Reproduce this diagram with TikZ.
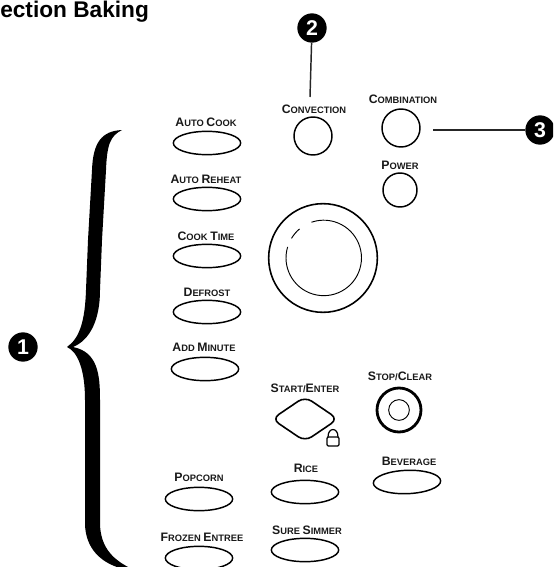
\documentclass[tikz,border=0pt]{standalone}
\usepackage{fontspec}
\setmainfont{Liberation Sans}
\newcommand{\lab}[2]{{\fontsize{9.2}{9.2}\selectfont #1{\fontsize{7}{7}\selectfont #2}}}
\tikzset{
  x=0.75pt,y=-0.75pt,
  btn/.style={draw=black,line width=1.1pt,ellipse,minimum width=50.5pt,minimum height=17.5pt,inner sep=0pt},
  rnd/.style={draw=black,line width=1.1pt,circle,inner sep=0pt},
  lbl/.style={font=\bfseries,inner sep=0pt,text=black!90},
  badge/.style={circle,fill=black,text=white,font=\fontsize{16}{16}\selectfont\bfseries,minimum size=22pt,inner sep=0pt},
  lead/.style={draw=black!85,line width=1.1pt}
}
\usetikzlibrary{shapes.geometric}
\begin{document}
\begin{tikzpicture}
\useasboundingbox (0,0) rectangle (553,567);
\clip (0,0) rectangle (553,567);
\node[anchor=west,inner sep=0pt,font=\fontsize{17}{17}\selectfont\bfseries] (title) at (0,12) {ection Baking};
% brace
\fill[black] (122,130) .. controls (102,131) and (93,142) .. (92,170)
  -- (88,240) -- (86,290) .. controls (85,320) and (80,338) .. (67,347)
  .. controls (78,352) and (85,370) .. (85,400)
  -- (85,525) .. controls (86,548) and (100,562) .. (120,568)
  -- (130,568) .. controls (110,558) and (101,545) .. (100,525)
  -- (100,400) .. controls (100,375) and (98,352) .. (73,347)
  .. controls (90,340) and (100,320) .. (100,290)
  -- (102,240) -- (106,170) .. controls (107,145) and (110,136) .. (122,130) -- cycle;
% badges
\node[badge] (b1) at (23,347) {1};
\node[badge] (b2) at (312,28) {2};
\node[badge] (b3) at (540,130) {3};
% left column
\node[lbl] (lac) at (206,122) {\lab{A}{UTO }\lab{C}{OOK}};
\node[btn] (ac) at (207,143) {};
\node[lbl] (lar) at (206,179) {\lab{A}{UTO }\lab{R}{EHEAT}};
\node[btn] (ar) at (207,199) {};
\node[lbl] (lct) at (206,236) {\lab{C}{OOK }\lab{T}{IME}};
\node[btn] (ct) at (207,256) {};
\node[lbl] (ldf) at (207,292) {\lab{D}{EFROST}};
\node[btn] (df) at (207,312) {};
\node[lbl] (lam) at (204,347) {\lab{A}{DD }\lab{M}{INUTE}};
\node[btn] (am) at (205,369) {};
\node[lbl] (lpc) at (199,477) {\lab{P}{OPCORN}};
\node[btn] (pc) at (199,499) {};
\node[lbl] (lfe) at (202,537) {\lab{F}{ROZEN }\lab{E}{NTREE}};
\node[btn] (fe) at (199,558) {};
% centre and right
\node[lbl] (lcv) at (314,109) {\lab{C}{ONVECTION}};
\node[rnd,minimum size=28.5pt] (cv) at (313,136) {};
\node[lbl] (lcb) at (403,99) {\lab{C}{OMBINATION}};
\node[rnd,minimum size=28.5pt] (cb) at (401,128) {};
\node[lbl] (lpw) at (400,165) {\lab{P}{OWER}};
\node[rnd,minimum size=25.5pt] (pw) at (400,190) {};
% dial
\node[rnd,line width=1.2pt,minimum size=81.5pt] (dial) at (323,258) {};
\node[circle,inner sep=0pt,minimum size=56.6pt] (dialin) at (324,258) {};
\draw[line width=0.7pt] (dialin.163) arc[start angle=163,end angle=469,radius=28.3pt];
\draw[line width=0.7pt] (dialin.130) arc[start angle=130,end angle=149,radius=28.3pt];
% start
\node[lbl] (lse) at (305,388) {\lab{S}{TART/}\lab{E}{NTER}};
\node[draw=black,line width=1.2pt,diamond,aspect=1.45,minimum width=50pt,minimum height=34pt,inner sep=0pt,rounded corners=6pt] (se) at (305,419) {};
\coordinate (lk) at (333,438);
\draw[line width=0.9pt,rounded corners=1pt] ([shift={(-6,-1)}]lk) rectangle ([shift={(6,8)}]lk);
\draw[line width=0.9pt] ([shift={(-5,-1)}]lk) .. controls ([shift={(-5,-11)}]lk) and ([shift={(5,-11)}]lk) .. ([shift={(5,-1)}]lk);
% stop
\node[lbl] (lsc) at (400,376) {\lab{S}{TOP/}\lab{C}{LEAR}};
\node[rnd,line width=2.1pt,minimum size=33pt] (sc) at (399,410) {};
\node[rnd,line width=0.7pt,minimum size=15.5pt] (sci) at (399,410) {};
% bottom
\node[lbl] (lbv) at (409,461) {\lab{B}{EVERAGE}};
\node[btn,rotate=2] (bv) at (407,482) {};
\node[lbl] (lrc) at (306,468) {\lab{R}{ICE}};
\node[btn] (rc) at (305,492) {};
\node[lbl] (lss) at (307,530) {\lab{S}{URE }\lab{S}{IMMER}};
\node[btn] (ss) at (305,550) {};
% leaders
\coordinate (e2) at (310,97);
\coordinate (e3) at (433,130);
\draw[lead] (b2) -- (e2);
\draw[lead] (e3) -- (b3);
\end{tikzpicture}
\end{document}
